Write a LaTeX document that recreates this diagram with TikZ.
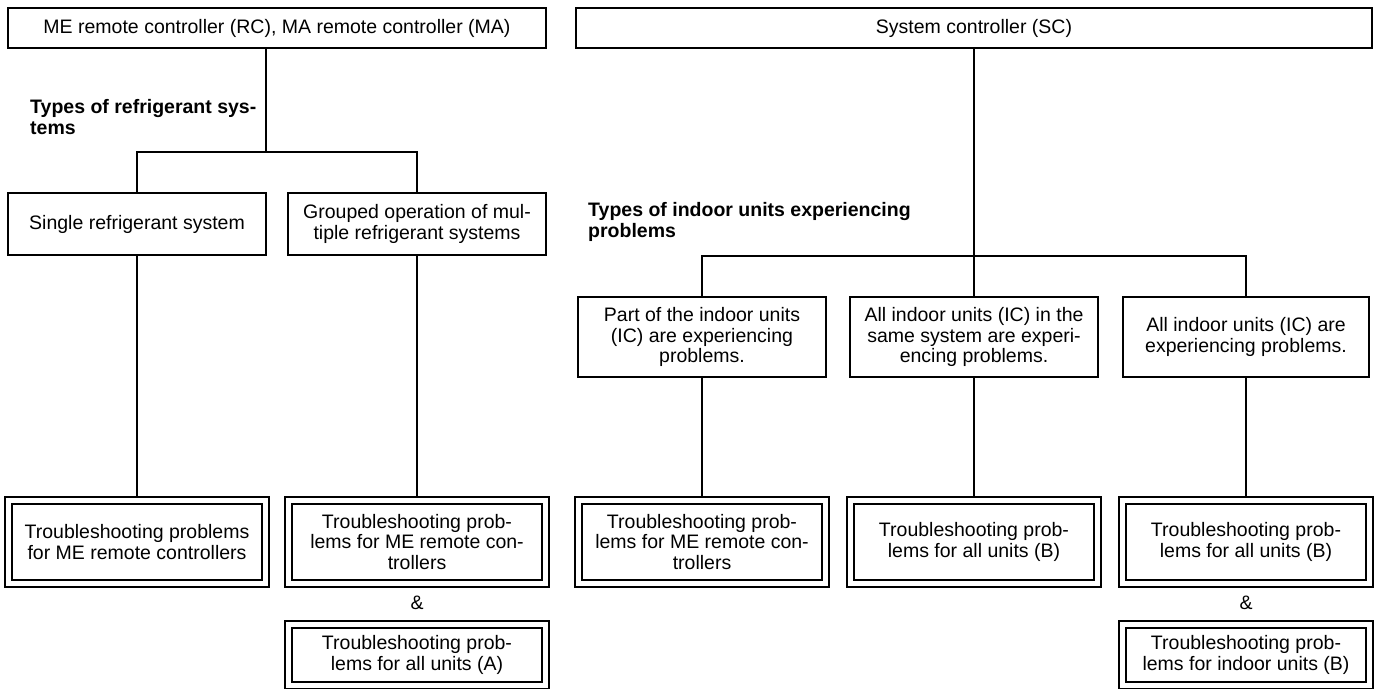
\documentclass[tikz,border=0pt]{standalone}
\usepackage{fontspec}
\setmainfont{Liberation Sans}
\newcommand\boxfont{\fontsize{19.5}{20.5}\selectfont}
\tikzset{
  box/.style={draw, line width=2pt, align=center, inner sep=0pt, font=\boxfont},
  dbox/.style={box, double, double distance=5pt, outer sep=4.5pt},
  conn/.style={line width=2pt},
  head/.style={font=\boxfont\bfseries, align=left, inner sep=0pt, anchor=west},
  amp/.style={font=\boxfont, inner sep=0pt}
}
\begin{document}
\begin{tikzpicture}[x=1pt,y=-1pt]
\useasboundingbox (0,0) rectangle (1383,688);
% top level
\node[box, minimum width=538pt, minimum height=40pt] (RC) at (277,28) {ME remote controller (RC), MA remote controller (MA)};
\node[box, minimum width=796pt, minimum height=40pt] (SC) at (974,28) {System controller (SC)};
% headings
\node[head] (H1) at (30,117) {Types of refrigerant sys-\\tems};
\node[head] (H2) at (588,222) {Types of indoor units experiencing\\problems};
% left branch
\node[box, minimum width=258pt, minimum height=62pt] (S1) at (137,224) {Single refrigerant system};
\node[box, minimum width=258pt, minimum height=62pt] (G1) at (417,224) {Grouped operation of mul-\\tiple refrigerant systems};
\node[dbox, minimum width=257pt, minimum height=83pt] (D1) at (137,542) {Troubleshooting problems\\for ME remote controllers};
\node[dbox, minimum width=257pt, minimum height=83pt] (D2) at (417,542) {Troubleshooting prob-\\lems for ME remote con-\\trollers};
\node[amp] (A1) at (417,603) {\&};
\node[dbox, minimum width=257pt, minimum height=61pt] (DA) at (417,655) {Troubleshooting prob-\\lems for all units (A)};
% right branch
\node[box, minimum width=248pt, minimum height=80pt] (P1) at (702,337) {Part of the indoor units\\(IC) are experiencing\\problems.};
\node[box, minimum width=248pt, minimum height=80pt] (P2) at (974,337) {All indoor units (IC) in the\\same system are experi-\\encing problems.};
\node[box, minimum width=246pt, minimum height=80pt] (P3) at (1246,337) {All indoor units (IC) are\\experiencing problems.};
\node[dbox, minimum width=247pt, minimum height=83pt] (E1) at (702,542) {Troubleshooting prob-\\lems for ME remote con-\\trollers};
\node[dbox, minimum width=247pt, minimum height=83pt] (E2) at (974,542) {Troubleshooting prob-\\lems for all units (B)};
\node[dbox, minimum width=247pt, minimum height=83pt] (E3) at (1246,542) {Troubleshooting prob-\\lems for all units (B)};
\node[amp] (A2) at (1246,603) {\&};
\node[dbox, minimum width=247pt, minimum height=61pt] (EB) at (1246,655) {Troubleshooting prob-\\lems for indoor units (B)};
% connectors
\coordinate (J1) at (266,152);
\coordinate (J2) at (974,256);
\draw[conn] (RC.south -| J1) -- (J1);
\draw[conn] (S1.north) |- (J1) -| (G1.north);
\draw[conn] (S1.south) -- (D1.north);
\draw[conn] (G1.south) -- (D2.north);
\draw[conn] (SC.south) -- (J2);
\draw[conn] (P1.north) |- (J2) -| (P3.north);
\draw[conn] (J2) -- (P2.north);
\draw[conn] (P1.south) -- (E1.north);
\draw[conn] (P2.south) -- (E2.north);
\draw[conn] (P3.south) -- (E3.north);
\end{tikzpicture}
\end{document}
